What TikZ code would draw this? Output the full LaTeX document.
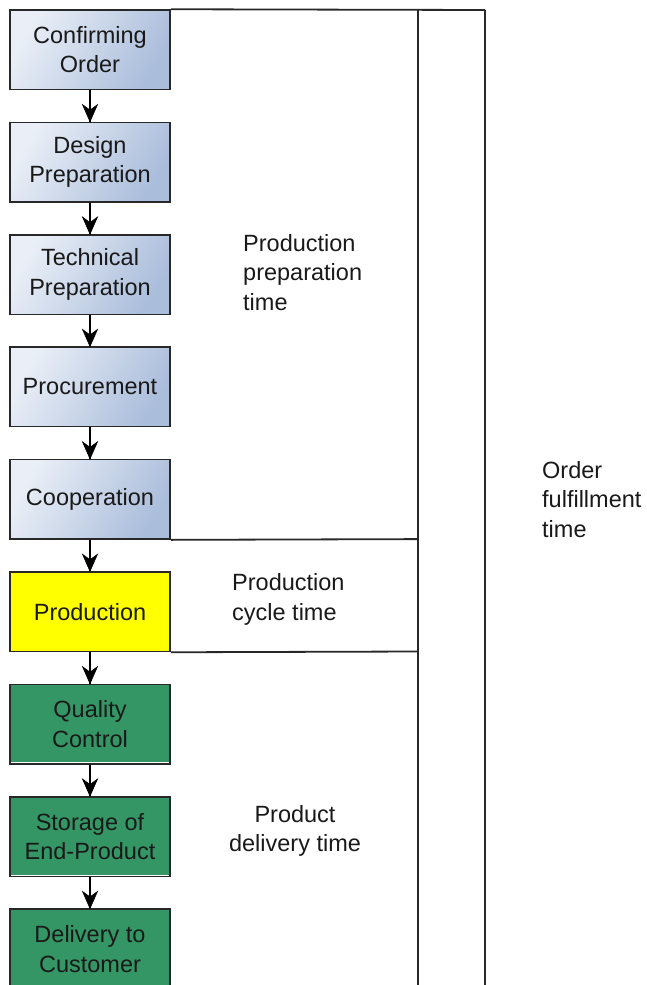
\documentclass[tikz,border=0pt]{standalone}
\usepackage{fontspec}
\setmainfont{Liberation Sans}
\definecolor{bluelight}{RGB}{234,239,247}
\definecolor{bluedark}{RGB}{170,189,219}
\definecolor{prodyellow}{RGB}{255,255,0}
\definecolor{delivgreen}{RGB}{52,150,101}
\definecolor{linegray}{RGB}{40,40,40}
\tikzset{
  box/.style={rectangle, draw=linegray, line width=1.5pt, minimum width=160pt,
    minimum height=79.5pt, inner sep=0pt, align=center, text=black!90,
    font=\fontsize{23.5}{29.5}\selectfont},
  bluebox/.style={box, top color=bluelight, bottom color=bluedark, shading angle=60},
  yellowbox/.style={box, fill=prodyellow},
  greenbox/.style={box, fill=delivgreen},
  flow/.style={draw=black, line width=1.6pt},
  flowhead/.style={fill=black, draw=black, line width=0.6pt, line join=miter},
  frame/.style={draw=linegray, line width=1.8pt},
  label/.style={inner sep=0pt, align=left, text=black!90,
    font=\fontsize{23.5}{29.5}\selectfont}
}
\begin{document}
\begin{tikzpicture}[x=1pt, y=-1pt]
  \useasboundingbox (0,0) rectangle (647,985);
  \clip (0,0) rectangle (647,985);

  % process steps
  \node[bluebox]   (b1) at (90, 49.75)  {Confirming\\Order};
  \node[bluebox]   (b2) at (90, 162.15) {Design\\Preparation};
  \node[bluebox]   (b3) at (90, 274.55) {Technical\\Preparation};
  \node[bluebox]   (b4) at (90, 386.95) {Procurement};
  \node[bluebox]   (b5) at (90, 499.35) {Cooperation};
  \node[yellowbox] (b6) at (90, 611.75) {Production};
  \node[greenbox]  (b7) at (90, 724.15) {Quality\\Control};
  \node[greenbox]  (b8) at (90, 836.55) {Storage of\\End-Product};
  \node[greenbox]  (b9) at (90, 948.95) {Delivery to\\Customer};

  % white highlight above the bottom edge of the green boxes
  \foreach \b in {b7,b8,b9}
    \draw[white, line width=1pt]
      ([xshift=1.5pt, yshift=2pt]\b.south west) -- ([xshift=-1.5pt, yshift=2pt]\b.south east);

  % connectors between steps, each ending in a barbed arrowhead
  \foreach \a/\b in {b1/b2, b2/b3, b3/b4, b4/b5, b5/b6, b6/b7, b7/b8, b8/b9} {
    \draw[flow] (\a.south) -- (\b.north);
    \filldraw[flowhead] (\b.north) -- ++(-7.5,-17) -- ++(7.5,5.5) -- ++(7.5,-5.5) -- cycle;
  }

  % time brackets
  \coordinate (innertop) at (418,10);
  \coordinate (innerbot) at (418,1000);
  \coordinate (outertop) at (485,10);
  \coordinate (outerbot) at (485,1000);
  \coordinate (prepend)  at (418,539.1);
  \coordinate (cycleend) at (418,651.5);

  \draw[frame] (b1.north east) -- (outertop);
  \draw[frame] (innertop) -- (innerbot);
  \draw[frame] (outertop) -- (outerbot);
  \draw[frame] (b5.south east) -- (prepend);
  \draw[frame] (b6.south east) -- (cycleend);

  % time labels
  \node[label, anchor=west] (prep)  at (243, 272.5) {Production\\preparation\\time};
  \node[label, anchor=west] (cycle) at (232, 599.5) {Production\\cycle time};
  \node[label, align=center] (deliv) at (295, 831) {Product\\delivery time};
  \node[label, anchor=west] (order) at (542, 499.5) {Order\\fulfillment\\time};
\end{tikzpicture}
\end{document}
